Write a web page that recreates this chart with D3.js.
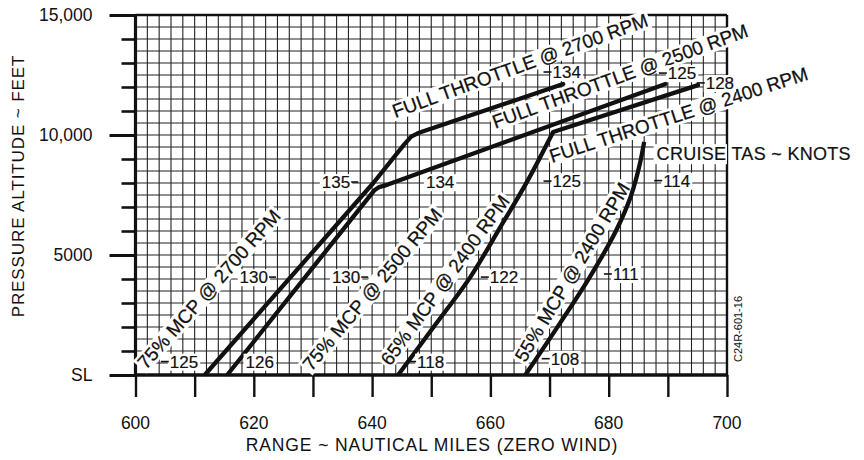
<!DOCTYPE html>
<html><head><meta charset="utf-8">
<script src="https://cdn.jsdelivr.net/npm/d3@7"></script>
<style>
body{margin:0;background:#fff;}
svg{display:block;font-family:"Liberation Sans",Arial,Helvetica,sans-serif;}
</style></head><body>
<svg id="c" width="864" height="460"></svg>
<script>
// ---------- data ----------
const xDomain = [600, 700];
const yDomain = [0, 15000];
const xTickValues = [600, 610, 620, 630, 640, 650, 660, 670, 680, 690, 700];
const xLabelValues = [600, 620, 640, 660, 680, 700];
const xLabels = ["600", "620", "640", "660", "680", "700"];
const yMajorValues = [0, 5000, 10000, 15000];
const yMajorLabels = ["SL", "5000", "10,000", "15,000"];
const yMinorValues = [1000,2000,3000,4000,6000,7000,8000,9000,11000,12000,13000,14000];

// curves: [range NM, pressure altitude ft]
const mcp75rpm2700 = [[611.7,0],[640.2,8000],[645.4,9600],[646.6,9930],[647.8,10080]];
const ftRpm2700    = [[647.8,10080],[672.3,12125]];
const mcp75rpm2500 = [[615.5,0],[640.4,7700],[641.2,7830],[642.2,7900]];
const ftRpm2500    = [[642.2,7900],[689.6,12125]];
const mcp65rpm2400 = [[644.4,0],[650.4,2000],[656.6,4080],[661.7,6170],[666.3,8100],[670.6,10125]];
const ftRpm2400    = [[670.6,10125],[695.1,12080]];
const mcp55rpm2400 = [[665.9,0],[671.8,2170],[676.8,4080],[681.3,6040],[683.7,7420],[685.3,8830],[686.0,9710]];

// cruise TAS labels
const tasText = ["125","126","118","108","130","130","122","111","135","134","125","114","134","125","128"];
const tasNm   = [608.2,621.0,649.9,672.6,620.0,635.6,662.3,682.9,633.9,651.5,672.9,691.5,672.9,692.4,698.8];
const tasAlt  = [560,560,560,680,4080,4080,4080,4210,8040,8040,8080,8100,12625,12580,12170];
const tasLead = ["L",null,"L","L","R","R","L","L","R",null,"L","L","L","L","L"];

// curve names
const curveText  = ["75% MCP @ 2700 RPM","75% MCP @ 2500 RPM","65% MCP @ 2400 RPM","55% MCP @ 2400 RPM",
                    "FULL THROTTLE @ 2700 RPM","FULL THROTTLE @ 2500 RPM","FULL THROTTLE @ 2400 RPM"];
const curveNm    = [612.4,640.0,652.3,673.8,665.0,681.9,691.8];
const curveAlt   = [3580,3580,3960,4290,12900,12460,10850];
const curveAngle = [-48.5,-50,-54,-59,-20,-20,-18];

// ---------- chart ----------
const svg = d3.select("#c");
const x = d3.scaleLinear().domain(xDomain).range([135.5, 727]);
const y = d3.scaleLinear().domain(yDomain).range([375, 15]);

// grid
const grid = svg.append("g").attr("stroke", "#222").attr("stroke-width", 1.1);
grid.selectAll("line.v").data(d3.range(602, 700, 2)).join("line")
  .attr("x1", d => x(d)).attr("x2", d => x(d)).attr("y1", y(15000)).attr("y2", y(0));
grid.selectAll("line.h").data(d3.range(500, 15000, 500)).join("line")
  .attr("y1", d => y(d)).attr("y2", d => y(d)).attr("x1", x(600)).attr("x2", x(700));

// frame
const frame = svg.append("g").attr("stroke", "#111").attr("fill", "none");
frame.append("line").attr("x1", x(600)).attr("x2", x(600)).attr("y1", y(15000)-1).attr("y2", y(0)+1).attr("stroke-width", 3.2);
frame.append("line").attr("x1", x(600)).attr("x2", x(700)+1).attr("y1", y(0)).attr("y2", y(0)).attr("stroke-width", 3.4);
frame.append("line").attr("x1", x(600)).attr("x2", x(700)).attr("y1", y(15000)).attr("y2", y(15000)).attr("stroke-width", 2.6);
frame.append("line").attr("x1", x(700)).attr("x2", x(700)).attr("y1", y(15000)).attr("y2", y(0)).attr("stroke-width", 2.4);

// y axis
const yAx = svg.append("g").attr("transform", `translate(${x(600)},0)`)
  .call(d3.axisLeft(y).tickValues(yMajorValues).tickSize(26).tickPadding(17)
        .tickFormat((d, i) => yMajorLabels[i]));
yAx.select(".domain").remove();
yAx.selectAll(".tick line").attr("stroke", "#111").attr("stroke-width", 3);
yAx.selectAll(".tick text").attr("fill", "#111").attr("font-size", 17.5)
   .attr("font-family", '"Liberation Sans",Arial,sans-serif');
const yMin = svg.append("g").attr("transform", `translate(${x(600)},0)`)
  .call(d3.axisLeft(y).tickValues(yMinorValues).tickSize(14).tickFormat(""));
yMin.select(".domain").remove();
yMin.selectAll(".tick line").attr("stroke", "#111").attr("stroke-width", 2.6);

// x axis
const xAx = svg.append("g").attr("transform", `translate(0,${y(0)})`)
  .call(d3.axisBottom(x).tickValues(xTickValues).tickSize(22).tickFormat(""));
xAx.select(".domain").remove();
xAx.selectAll(".tick line").attr("stroke", "#111").attr("stroke-width", 2.4);
svg.append("g").selectAll("text").data(xLabelValues).join("text")
  .attr("x", d => x(d)).attr("y", 429).attr("text-anchor", "middle")
  .attr("font-size", 17.5).attr("fill", "#111").text((d, i) => xLabels[i]);

// axis titles
svg.append("text").attr("x", 432).attr("y", 451).attr("text-anchor", "middle")
  .attr("font-size", 17.5).attr("letter-spacing", 0.9).attr("fill", "#111")
  .text("RANGE ~ NAUTICAL MILES (ZERO WIND)");
svg.append("text").attr("transform", "translate(24,186) rotate(-90)").attr("text-anchor", "middle")
  .attr("font-size", 17).attr("letter-spacing", 0.9).attr("fill", "#111")
  .text("PRESSURE ALTITUDE  ~  FEET");
svg.append("text").attr("transform", "translate(742,329) rotate(-90)").attr("text-anchor", "middle")
  .attr("font-size", 11).attr("fill", "#111").text("C24R-601-16");

// curve-name labels (white backing, rotated)
curveText.forEach((t, i) => {
  const g = svg.append("g")
    .attr("transform", `translate(${x(curveNm[i])},${y(curveAlt[i])}) rotate(${curveAngle[i]})`);
  const r = g.append("rect").attr("fill", "#fff");
  const tx = g.append("text").attr("text-anchor", "middle").attr("dy", "0.36em")
    .attr("font-size", 19).attr("fill", "#111").attr("stroke", "#111").attr("stroke-width", 0.25).text(t);
  const b = tx.node().getBBox();
  r.attr("x", b.x - 2).attr("y", b.y + 1).attr("width", b.width + 4).attr("height", b.height - 2);
});

// curves
const smooth = d3.line().x(d => x(d[0])).y(d => y(d[1])).curve(d3.curveMonotoneY);
const straight = d3.line().x(d => x(d[0])).y(d => y(d[1]));
const curveG = svg.append("g").attr("fill", "none").attr("stroke", "#111")
  .attr("stroke-width", 4.3).attr("stroke-linejoin", "round").attr("stroke-linecap", "butt");
[mcp75rpm2700, mcp75rpm2500].forEach(s => curveG.append("path").attr("d", straight(s)));
[mcp65rpm2400, mcp55rpm2400].forEach(s => curveG.append("path").attr("d", smooth(s)));
[ftRpm2700, ftRpm2500, ftRpm2400].forEach(s => curveG.append("path").attr("d", straight(s)).attr("stroke-linecap", "round"));

// TAS labels
tasText.forEach((t, i) => {
  const g = svg.append("g").attr("transform", `translate(${x(tasNm[i])},${y(tasAlt[i])})`);
  const r = g.append("rect").attr("fill", "#fff");
  const tx = g.append("text").attr("text-anchor", "middle").attr("dy", "0.36em")
    .attr("font-size", 17).attr("fill", "#111").attr("stroke", "#111").attr("stroke-width", 0.2).text(t);
  const b = tx.node().getBBox();
  r.attr("x", b.x - 2).attr("y", b.y + 1).attr("width", b.width + 4).attr("height", b.height - 2);
  if (tasLead[i] === "L") {
    g.append("line").attr("x1", b.x - 9).attr("x2", b.x - 1).attr("y1", 0).attr("y2", 0)
      .attr("stroke", "#111").attr("stroke-width", 1.6);
  } else if (tasLead[i] === "R") {
    g.append("line").attr("x1", b.x + b.width + 1).attr("x2", b.x + b.width + 8).attr("y1", 0).attr("y2", 0)
      .attr("stroke", "#111").attr("stroke-width", 1.6);
  }
});

// cruise TAS caption
const cap = svg.append("g").attr("transform", `translate(${x(688.1)},${y(8950)})`);
const capR = cap.append("rect").attr("fill", "#fff");
const capT = cap.append("text").attr("font-size", 18).attr("letter-spacing", 0.3).attr("fill", "#111")
  .attr("stroke", "#111").attr("stroke-width", 0.2)
  .text("CRUISE TAS  ~  KNOTS");
const cb = capT.node().getBBox();
capR.attr("x", cb.x - 3).attr("y", cb.y).attr("width", Math.min(cb.width + 3, 727 - x(688.1) + 3)).attr("height", cb.height);
</script>
</body></html>
